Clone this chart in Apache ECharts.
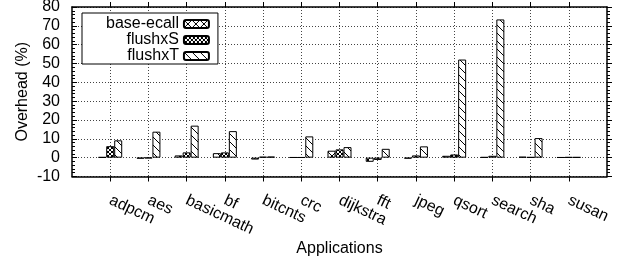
<!DOCTYPE html>
<html>
<head>
<meta charset="utf-8">
<script src="https://cdn.jsdelivr.net/npm/echarts@6/dist/echarts.min.js"></script>
<style>
html,body{margin:0;padding:0;background:#fff}
#main{width:619px;height:258px}
</style>
</head>
<body>
<div id="main"></div>
<script>
// categories and series values (overhead in %)
var apps = ['adpcm','aes','basicmath','bf','bitcnts','crc','dijkstra','fft','jpeg','qsort','search','sha','susan'];
var baseEcall = [0.3,-0.5,1.2,2.4,-1.0,0.2,3.7,-2.2,-0.5,1.0,0.3,0.5,0.2];
var flushxS   = [6.1,-0.3,2.8,2.8,0.5,0.2,4.4,-1.2,1.2,1.7,1.0,0.3,0.3];
var flushxT   = [9.2,13.8,17.0,14.1,0.6,11.3,5.6,4.7,6.0,52.1,73.4,10.4,0.3];
var seriesNames = ['base-ecall','flushxS','flushxT'];
var yMin = -10, yMax = 80, yStep = 10;

var FONT = 'Liberation Sans';

// hatch patterns like gnuplot fill patterns
function makePattern(kind){
	var c = document.createElement('canvas');
	var s = kind=='dense' ? 4 : 8;
	c.width = s; c.height = s;
	var g = c.getContext('2d');
	g.fillStyle = '#fff';
	g.fillRect(0,0,s,s);
	g.strokeStyle = '#000';
	g.lineWidth = 1;
	g.beginPath();
	// "\" lines
	g.moveTo(-1,-1); g.lineTo(s+1,s+1);
	g.moveTo(-1,s-1); g.lineTo(1,s+1);
	g.moveTo(s-1,-1); g.lineTo(s+1,1);
	if(kind!='back'){
		// "/" lines too
		g.moveTo(-1,s+1); g.lineTo(s+1,-1);
		g.moveTo(-1,1); g.lineTo(1,-1);
		g.moveTo(s-1,s+1); g.lineTo(s+1,s-1);
	}
	g.stroke();
	return {image:c, repeat:'repeat'};
}
var patterns = [makePattern('cross'), makePattern('dense'), makePattern('back')];
var allData = [baseEcall, flushxS, flushxT];

var tickIdx = apps.map(function(a,i){return i;});

var series = [];
for(var k=0;k<3;k++){
	series.push({
		name: seriesNames[k],
		type: 'bar',
		xAxisIndex: 0,
		yAxisIndex: 0,
		barWidth: 8,
		barGap: '0%',
		data: allData[k].map(function(v,i){return [i,v];}),
		itemStyle: {color: patterns[k], borderColor:'#000', borderWidth:1},
		emphasis: {disabled:true}
	});
}

var dotted = {type:[1,2], color:'#444', width:1};
var axisLineStyle = {color:'#000', width:1.5};

var chart = echarts.init(document.getElementById('main'));
var option = {
	animation: false,
	textStyle: {fontFamily: FONT, color:'#000'},
	grid: {left:72, right:12, top:7, bottom:81.5, containLabel:false, outerBoundsMode:'none'},
	legend: {
		orient: 'vertical',
		left: 82, top: 13,
		align: 'right',
		itemWidth: 25, itemHeight: 8,
		itemGap: 0,
		padding: [3, 8, 0, 24],
		backgroundColor: '#fff',
		borderColor: '#000', borderWidth: 1,
		textStyle: {fontFamily: FONT, fontSize: 16, color:'#000'},
		data: seriesNames
	},
	xAxis: [{
		type: 'value', min: -1, max: 13, interval: 1,
		position: 'bottom',
		axisLine: {show:true, onZero:false, lineStyle: axisLineStyle},
		axisTick: {show:true, inside:false, length:5, customValues: tickIdx, lineStyle:{color:'#000'}},
		axisLabel: {customValues: tickIdx, formatter: function(v){return apps[v]||'';}, rotate:-25, margin:23, fontSize:16, color:'#000', fontFamily:FONT},
		splitLine: {show:true, lineStyle: dotted},
		name: 'Applications', nameLocation:'middle', nameGap:64, nameMoveOverlap:false,
		nameTextStyle: {fontSize:16, color:'#000', fontFamily:FONT}
	},{
		type: 'value', min: -1, max: 13, interval: 1,
		position: 'top',
		axisLine: {show:true, onZero:false, lineStyle: axisLineStyle},
		axisTick: {show:true, inside:false, length:5, customValues: tickIdx, lineStyle:{color:'#000'}},
		axisLabel: {show:false},
		splitLine: {show:false}
	}],
	yAxis: [{
		type: 'value', min: yMin, max: yMax, interval: yStep,
		position: 'left',
		axisLine: {show:true, onZero:false, lineStyle: axisLineStyle},
		axisTick: {show:true, inside:true, length:5, lineStyle:{color:'#000'}},
		minorTick: {show:true, splitNumber:5, length:3, lineStyle:{color:'#000'}},
		axisLabel: {fontSize:16, margin:12, color:'#000', fontFamily:FONT},
		splitLine: {show:true, lineStyle: dotted},
		name: 'Overhead (%)', nameLocation:'middle', nameGap:41, nameMoveOverlap:false,
		nameTextStyle: {fontSize:16, color:'#000', fontFamily:FONT}
	},{
		type: 'value', min: yMin, max: yMax, interval: yStep,
		position: 'right',
		axisLine: {show:true, onZero:false, lineStyle: axisLineStyle},
		axisTick: {show:true, inside:false, length:5, lineStyle:{color:'#000'}},
		minorTick: {show:true, splitNumber:5, length:3, lineStyle:{color:'#000'}},
		axisLabel: {show:false},
		splitLine: {show:false}
	}],
	series: series
};
chart.setOption(option);
</script>
</body>
</html>
